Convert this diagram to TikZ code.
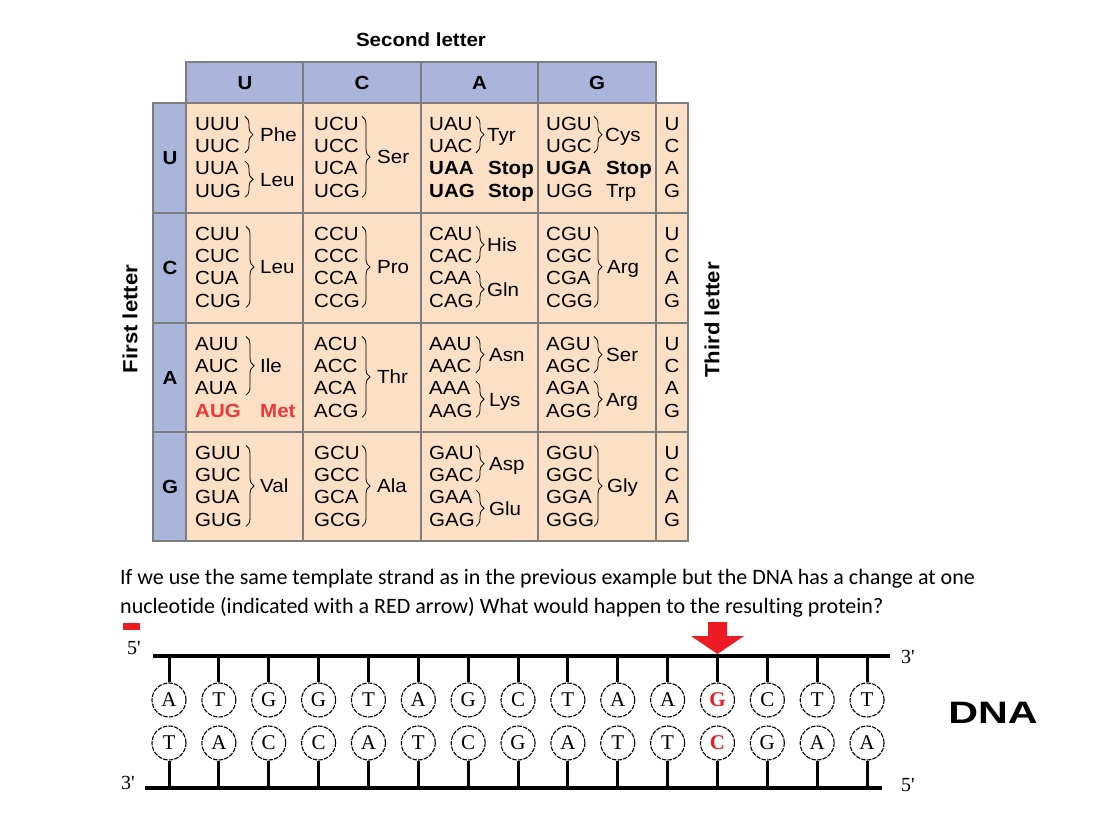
\documentclass[tikz,border=0pt]{standalone}
\usepackage{fontspec}
\setmainfont{Liberation Sans}[FakeStretch=1.08]
\newfontfamily\qfont{Carlito}[Ligatures=NoCommon]
\newfontfamily\tmfont{Liberation Serif}
\newfontfamily\dnafont{Liberation Sans}[FakeStretch=1.33]
\usetikzlibrary{decorations.pathreplacing}
\definecolor{hdr}{RGB}{169,181,219}
\definecolor{peach}{RGB}{252,224,197}
\definecolor{gridc}{RGB}{125,125,125}
\definecolor{redA}{RGB}{237,28,36}
\definecolor{metred}{RGB}{238,56,56}
\newcommand\cf{\fontsize{19}{22}\selectfont}
\tikzset{
  cod/.style={anchor=west, inner sep=0pt, font=\cf, text height=13.6pt, text depth=0pt},
  bcod/.style={cod, font=\cf\bfseries},
  tl/.style={cod, anchor=center},
  br/.style={decorate, decoration={brace, amplitude=8pt}, line width=0.8pt},
  gl/.style={gridc, line width=2pt},
  nuc/.style={circle, draw, dash pattern=on 4.5pt off 1.2pt, line width=1.1pt, minimum size=34pt, inner sep=0pt, font=\tmfont\fontsize{21}{21}\selectfont},
  bb/.style={line width=3.5pt},
  tick/.style={line width=3pt},
  prime/.style={inner sep=0pt, font=\tmfont\fontsize{20}{20}\selectfont},
  ttl/.style={font=\fontsize{19}{20}\selectfont\bfseries},
  rttl/.style={font=\fontsize{20.5}{21}\selectfont\bfseries, rotate=90}
}
% codons: x, rowtop, c1..c4
\newcommand\codons[6]{%
  \node[cod] (c-#3) at (#1,#2+20.5) {#3};
  \node[cod] (c-#4) at (#1,#2+42.8) {#4};
  \node[cod] (c-#5) at (#1,#2+65.1) {#5};
  \node[cod] (c-#6) at (#1,#2+87.4) {#6};}
% pair brace: bracex, rowtop, firstline, labelx, label
\newcommand\pairbr[5]{%
  \draw[br] (#1,{#2+13.5+22.3*#3}) -- (#1,{#2+27.5+22.3*(#3+1)});
  \node[cod] (a-#5-#2-#3) at (#4,{#2+20.5+22.3*(#3+0.5)}) {#5};}
% four brace: bracex, rowtop, labelx, label
\newcommand\quadbr[4]{%
  \draw[br] (#1,#2+13.5) -- (#1,{#2+27.5+22.3*3});
  \node[cod] (a-#4-#2) at (#3,{#2+20.5+33.45}) {#4};}
\newcommand\thirds[1]{%
  \node[tl] (th-U-#1) at (672,#1+20.5) {U};
  \node[tl] (th-C-#1) at (672,#1+42.8) {C};
  \node[tl] (th-A-#1) at (672,#1+65.1) {A};
  \node[tl] (th-G-#1) at (672,#1+87.4) {G};}
\begin{document}
\begin{tikzpicture}[x=1pt,y=-1pt]
\useasboundingbox (0,0) rectangle (1104,818);
\fill[white] (0,0) rectangle (1104,818);
% table backgrounds
\fill[hdr] (186,62) rectangle (656,103);
\fill[hdr] (153,103) rectangle (186,541);
\fill[peach] (186,103) rectangle (688,541);
% grid
\draw[gl] (186,62) rectangle (656,103);
\foreach \x in {303,421,538} \draw[gl] (\x,62) -- (\x,103);
\draw[gl] (153,103) rectangle (688,541);
\foreach \x in {186,303,421,538,656} \draw[gl] (\x,103) -- (\x,541);
\foreach \y in {213,323,432} \draw[gl] (153,\y) -- (688,\y);
% titles
\node[ttl] (second) at (421,40) {Second letter};
\node[rttl] (first) at (130,319) {First letter};
\node[rttl] (third) at (712,320) {Third letter};
% header letters
\node[tl,font=\cf\bfseries] (h-U) at (245,82.5) {U};
\node[tl,font=\cf\bfseries] (h-C) at (362,82.5) {C};
\node[tl,font=\cf\bfseries] (h-A) at (479.5,82.5) {A};
\node[tl,font=\cf\bfseries] (h-G) at (597,82.5) {G};
\node[tl,font=\cf\bfseries] (f-U) at (170,158) {U};
\node[tl,font=\cf\bfseries] (f-C) at (170,268) {C};
\node[tl,font=\cf\bfseries] (f-A) at (170,377.5) {A};
\node[tl,font=\cf\bfseries] (f-G) at (170,486.5) {G};
% third letters
\thirds{103}\thirds{213}\thirds{323}\thirds{432}
% ---- row U (103)
\codons{195}{103}{UUU}{UUC}{UUA}{UUG}
\pairbr{245}{103}{0}{260}{Phe}
\pairbr{245}{103}{2}{260}{Leu}
\codons{314}{103}{UCU}{UCC}{UCA}{UCG}
\quadbr{362}{103}{377}{Ser}
\node[cod] (c-UAU) at (429,123.5) {UAU};
\node[cod] (c-UAC) at (429,145.8) {UAC};
\pairbr{476}{103}{0}{487}{Tyr}
\node[bcod] (c-UAA) at (429,168.1) {UAA};
\node[bcod] (s-UAA) at (488,168.1) {Stop};
\node[bcod] (c-UAG) at (429,190.4) {UAG};
\node[bcod] (s-UAG) at (488,190.4) {Stop};
\node[cod] (c-UGU) at (546,123.5) {UGU};
\node[cod] (c-UGC) at (546,145.8) {UGC};
\pairbr{594}{103}{0}{605}{Cys}
\node[bcod] (c-UGA) at (546,168.1) {UGA};
\node[bcod] (s-UGA) at (606,168.1) {Stop};
\node[cod] (c-UGG) at (546,190.4) {UGG};
\node[cod] (a-Trp) at (606,190.4) {Trp};
% ---- row C (213)
\codons{195}{213}{CUU}{CUC}{CUA}{CUG}
\quadbr{246}{213}{260}{Leu}
\codons{314}{213}{CCU}{CCC}{CCA}{CCG}
\quadbr{362}{213}{377}{Pro}
\codons{429}{213}{CAU}{CAC}{CAA}{CAG}
\pairbr{476}{213}{0}{487}{His}
\pairbr{476}{213}{2}{487}{Gln}
\codons{546}{213}{CGU}{CGC}{CGA}{CGG}
\quadbr{594}{213}{607}{Arg}
% ---- row A (323)
\node[cod] (c-AUU) at (195,343.5) {AUU};
\node[cod] (c-AUC) at (195,365.8) {AUC};
\node[cod] (c-AUA) at (195,388.1) {AUA};
\draw[br] (246,336.5) -- (246,395.1);
\node[cod] (a-Ile) at (260,365.8) {Ile};
\node[bcod,text=metred] (c-AUG) at (195,410.4) {AUG};
\node[bcod,text=metred] (a-Met) at (260,410.4) {Met};
\codons{314}{323}{ACU}{ACC}{ACA}{ACG}
\quadbr{362}{323}{377}{Thr}
\codons{429}{323}{AAU}{AAC}{AAA}{AAG}
\pairbr{476}{323}{0}{489}{Asn}
\pairbr{476}{323}{2}{489}{Lys}
\codons{546}{323}{AGU}{AGC}{AGA}{AGG}
\pairbr{594}{323}{0}{606}{Ser}
\pairbr{594}{323}{2}{606}{Arg}
% ---- row G (432)
\codons{195}{432}{GUU}{GUC}{GUA}{GUG}
\quadbr{246}{432}{260}{Val}
\codons{314}{432}{GCU}{GCC}{GCA}{GCG}
\quadbr{362}{432}{377}{Ala}
\codons{429}{432}{GAU}{GAC}{GAA}{GAG}
\pairbr{476}{432}{0}{489}{Asp}
\pairbr{476}{432}{2}{489}{Glu}
\codons{546}{432}{GGU}{GGC}{GGA}{GGG}
\quadbr{594}{432}{607}{Gly}
% ---- question
\node[anchor=base west, inner sep=0pt, font=\qfont\fontsize{22}{26}\selectfont] (q1) at (120,584) {If we use the same template strand as in the previous example but the DNA has a change at one};
\node[anchor=base west, inner sep=0pt, font=\qfont\fontsize{22}{26}\selectfont] (q2) at (120,613) {nucleotide (indicated with a RED arrow) What would happen to the resulting protein?};
\fill[redA] (123,622.5) rectangle (140,630);
% ---- DNA
\coordinate (tl) at (153,656); \coordinate (tr) at (890,656);
\coordinate (bl) at (145,788); \coordinate (br) at (882,788);
\draw[bb] (tl) -- (tr);
\draw[bb] (bl) -- (br);
\node[prime] (p5a) at (134,648) {5'};
\node[prime] (p3a) at (128,783) {3'};
\node[prime] (p3b) at (908,657) {3'};
\node[prime] (p5b) at (908,785) {5'};
\foreach \t/\b [count=\i from 0] in {A/T,T/A,G/C,G/C,T/A,A/T,G/C,C/G,T/A,A/T,A/T,G/C,C/G,T/A,T/A}{
  \pgfmathsetmacro\xx{169+49.86*\i}
  \ifnum\i=11
    \node[nuc,text=redA,font=\tmfont\fontsize{21}{21}\selectfont\bfseries] (t\i) at (\xx,700) {\t};
    \node[nuc,text=redA,font=\tmfont\fontsize{21}{21}\selectfont\bfseries] (b\i) at (\xx,743) {\b};
  \else
    \node[nuc] (t\i) at (\xx,700) {\t};
    \node[nuc] (b\i) at (\xx,743) {\b};
  \fi
  \draw[tick] (\xx,656) -- (t\i.north);
  \draw[tick] (b\i.south) -- (\xx,788);
}
% red arrow
\fill[redA] (708,622) -- (727,622) -- (727,636) -- (744,636) -- (717.5,654) -- (691,636) -- (708,636) -- cycle;
\node[font=\dnafont\fontsize{31}{31}\selectfont\bfseries] (dna) at (993,713) {DNA};
\end{tikzpicture}
\end{document}
